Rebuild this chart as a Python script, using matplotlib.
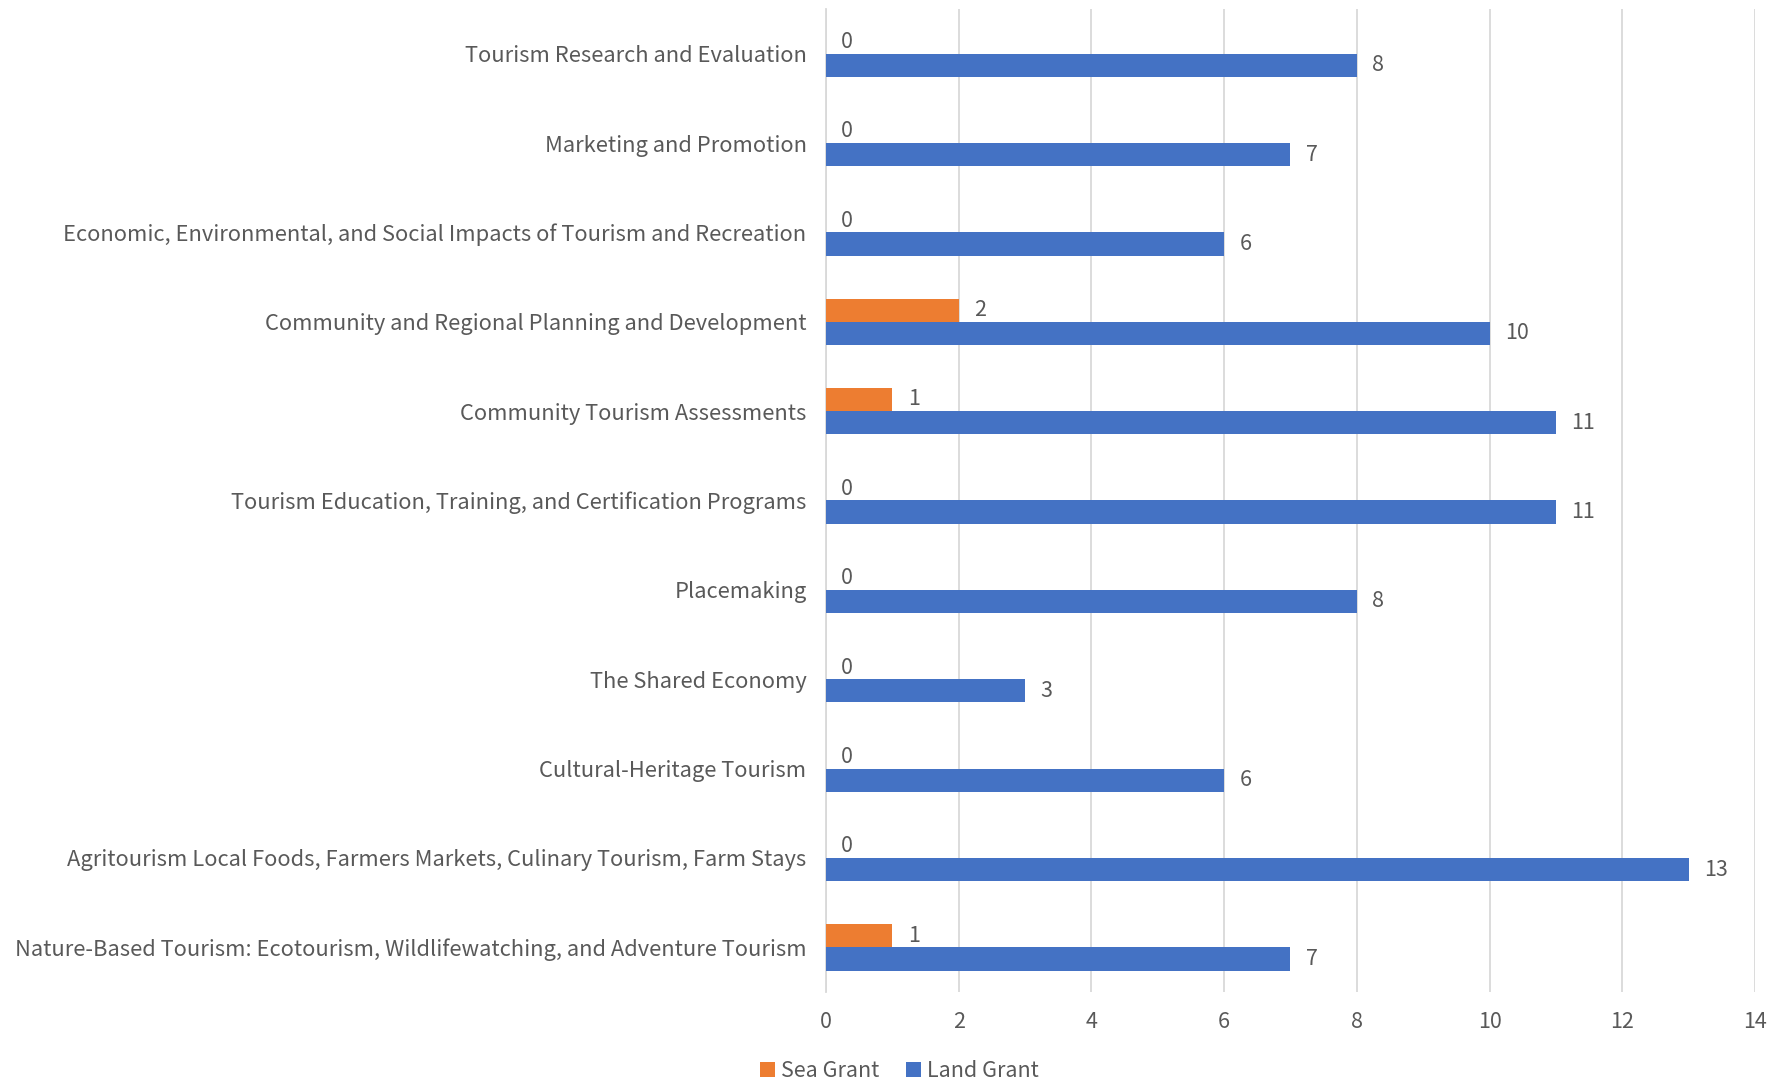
import matplotlib
matplotlib.use("Agg")
import matplotlib.pyplot as plt
import numpy as np

# categories, bottom to top as drawn
CATEGORIES = [
    "Nature-Based Tourism: Ecotourism, Wildlifewatching, and Adventure Tourism",
    "Agritourism Local Foods, Farmers Markets, Culinary Tourism, Farm Stays",
    "Cultural-Heritage Tourism",
    "The Shared Economy",
    "Placemaking",
    "Tourism Education, Training, and Certification Programs",
    "Community Tourism Assessments",
    "Community and Regional Planning and Development",
    "Economic, Environmental, and Social Impacts of Tourism and Recreation",
    "Marketing and Promotion",
    "Tourism Research and Evaluation",
]
SEA_GRANT  = [1, 0, 0, 0, 0, 0, 1, 2, 0, 0, 0]
LAND_GRANT = [7, 13, 6, 3, 8, 11, 11, 10, 6, 7, 8]
X_TICKS = [0, 2, 4, 6, 8, 10, 12, 14]

ORANGE = "#ED7D31"
BLUE   = "#4472C4"
TEXT   = "#595959"
GRID   = "#D9D9D9"

plt.rcParams["font.family"] = ["Noto Sans CJK SC", "DejaVu Sans"]

fig = plt.figure(figsize=(17.88, 10.82), dpi=100)
ax = fig.add_axes([0.462, 0.0832, 0.5195, 0.9085])

y = np.arange(len(CATEGORIES))
h = 0.26
b1 = ax.barh(y + h / 2, SEA_GRANT, height=h, color=ORANGE, label="Sea Grant", zorder=3)
b2 = ax.barh(y - h / 2, LAND_GRANT, height=h, color=BLUE, label="Land Grant", zorder=3)

for bars, vals in [(b1, SEA_GRANT), (b2, LAND_GRANT)]:
    for rect, v in zip(bars, vals):
        ax.annotate(str(v), (v, rect.get_y() + rect.get_height() / 2),
                    xytext=(11, 0), textcoords="offset points",
                    ha="left", va="center", fontsize=15.5, color=TEXT,
                    fontweight="light")

ax.set_xlim(0, 14)
ax.set_ylim(-0.5, len(CATEGORIES) - 0.5)
ax.set_xticks(X_TICKS)
ax.set_xticklabels([str(t) for t in X_TICKS], fontsize=15.5, color=TEXT,
                   fontweight="light")
ax.set_yticks(y)
ax.set_yticklabels(CATEGORIES, fontsize=15.8, color=TEXT, fontweight="light")
ax.tick_params(length=0)
ax.tick_params(axis="x", pad=14)
ax.tick_params(axis="y", pad=14)

ax.grid(axis="x", color=GRID, linewidth=1.3, zorder=0)
for s in ["top", "right", "bottom"]:
    ax.spines[s].set_visible(False)
ax.spines["left"].set_color(GRID)
ax.spines["left"].set_linewidth(1.3)

fig.legend(handles=[b1, b2], loc="lower center", bbox_to_anchor=(0.503, -0.018),
           ncol=2, frameon=False, fontsize=15.5, labelcolor=TEXT,
           prop={"weight": "light", "size": 15.5},
           handlelength=0.7, handleheight=0.7, handletextpad=0.3, columnspacing=1.2)

fig.savefig("out.png", dpi=100, facecolor="white")
